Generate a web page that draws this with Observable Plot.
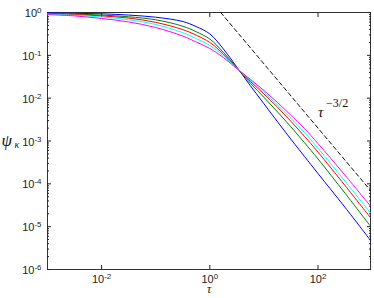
<!DOCTYPE html>
<html><head><meta charset="utf-8">
<script src="https://cdn.jsdelivr.net/npm/d3@7"></script>
<script src="https://cdn.jsdelivr.net/npm/@observablehq/plot@0.6"></script>
<style>body{margin:0;background:#fff}</style>
</head><body><div id="chart"></div>
<script>
// tau sample points
const tau = [1e-3, 3.16e-3, 1e-2, 3.16e-2, 0.1, 0.316, 0.562, 1, 1.78, 3.16, 5.62, 10, 17.8, 31.6, 56.2, 100, 316, 933];
// log10(psi) read for each curve
const logPsiBlue    = [-0.01, -0.02, -0.03, -0.06, -0.11, -0.21, -0.33, -0.50, -0.85, -1.275, -1.71, -2.13, -2.55, -2.96, -3.36, -3.76, -4.55, -5.32];
const logPsiGreen   = [-0.02, -0.035, -0.06, -0.10, -0.17, -0.32, -0.45, -0.62, -0.93, -1.285, -1.65, -1.98, -2.32, -2.67, -3.04, -3.42, -4.22, -4.99];
const logPsiRed     = [-0.03, -0.05, -0.08, -0.13, -0.23, -0.40, -0.53, -0.70, -0.97, -1.295, -1.61, -1.90, -2.21, -2.54, -2.89, -3.26, -4.04, -4.79];
const logPsiCyan    = [-0.04, -0.065, -0.105, -0.17, -0.28, -0.47, -0.61, -0.77, -1.01, -1.30, -1.585, -1.86, -2.16, -2.47, -2.80, -3.17, -3.94, -4.68];
const logPsiMagenta = [-0.05, -0.08, -0.14, -0.22, -0.35, -0.55, -0.69, -0.84, -1.05, -1.31, -1.56, -1.82, -2.10, -2.40, -2.71, -3.06, -3.80, -4.52];
const seriesNames  = ["blue", "green", "red", "cyan", "magenta"];
const seriesColors = ["#0000ff", "#008000", "#ff0000", "#00bfbf", "#bf00bf"];
// reference power law tau^(-3/2)
const refTau = [1.59, 933];
const refPsi = [1, 7.0e-5];
const refLabel = [{tau: 100, psi: 4.6e-3, base: "τ", exponent: "−3/2"}];
// ticks
const xMajorTicks = [1e-2, 1, 1e2];
const yMajorTicks = [1e-6, 1e-5, 1e-4, 1e-3, 1e-2, 1e-1, 1];
const yMinorTicks = [];
for (let k = -6; k < 0; k++) for (let m = 2; m <= 9; m++) yMinorTicks.push(m * 10 ** k);

const allLogs = [logPsiBlue, logPsiGreen, logPsiRed, logPsiCyan, logPsiMagenta];
const rows = [];
allLogs.forEach((arr, s) => arr.forEach((v, i) => rows.push({series: seriesNames[s], tau: tau[i], psi: 10 ** v})));
const refRows = refTau.map((t, i) => ({tau: t, psi: refPsi[i]}));

const fmt = d => `10^${Math.round(Math.log10(d))}`;
const none = () => "";
const serif = "Liberation Serif, DejaVu Serif, serif";

const plot = Plot.plot({
  width: 374, height: 298,
  marginLeft: 47, marginRight: 4, marginTop: 12, marginBottom: 29,
  x: {type: "log", domain: [1e-3, 933]},
  y: {type: "log", domain: [1e-6, 1]},
  color: {domain: seriesNames, range: seriesColors},
  style: {fontFamily: "Liberation Sans, Arial, sans-serif", fontSize: "11px", color: "#222", background: "white", overflow: "visible"},
  marks: [
    Plot.frame({stroke: "#333"}),
    Plot.axisX({ticks: xMajorTicks, anchor: "bottom", tickSize: 0, tickPadding: 5.5, tickFormat: fmt, label: null}),
    Plot.axisX({ticks: xMajorTicks, anchor: "bottom", tickSize: -4, tickFormat: none, label: null}),
    Plot.axisX({ticks: xMajorTicks, anchor: "top", tickSize: -4, tickFormat: none, label: null}),
    Plot.axisY({ticks: yMajorTicks, anchor: "left", tickSize: 0, tickPadding: 6, dy: 1, tickFormat: fmt, label: null}),
    Plot.axisY({ticks: yMajorTicks, anchor: "left", tickSize: -4, tickFormat: none, label: null}),
    Plot.axisY({ticks: yMajorTicks, anchor: "right", tickSize: -4, tickFormat: none, label: null}),
    Plot.axisY({ticks: yMinorTicks, anchor: "left", tickSize: -2, tickFormat: none, label: null}),
    Plot.axisY({ticks: yMinorTicks, anchor: "right", tickSize: -2, tickFormat: none, label: null}),
    Plot.line(rows, {x: "tau", y: "psi", z: "series", stroke: "series", curve: "catmull-rom", strokeWidth: 1}),
    Plot.line(refRows, {x: "tau", y: "psi", stroke: "#111", strokeWidth: 1, strokeDasharray: "4,3"}),
    Plot.text(refLabel, {x: "tau", y: "psi", text: "base", textAnchor: "start", fontSize: 15, fontStyle: "italic", fontFamily: serif, fill: "#111"}),
    Plot.text(refLabel, {x: "tau", y: "psi", text: "exponent", textAnchor: "start", dx: 8, dy: -9, fontSize: 12, letterSpacing: "2px", fontFamily: serif, fill: "#111"}),
    Plot.text(["ψ"], {frameAnchor: "left", textAnchor: "start", dx: -46, fontSize: 17, fontStyle: "italic", fontFamily: serif, fill: "#111"}),
    Plot.text(["κ"], {frameAnchor: "left", textAnchor: "start", dx: -33, dy: 4, fontSize: 10, fontStyle: "italic", fontFamily: serif, fill: "#111"}),
    Plot.text(["τ"], {frameAnchor: "bottom", dy: 23.8, fontSize: 11.5, fontStyle: "italic", fontFamily: serif, fill: "#111"})
  ]
});

const ns = "http://www.w3.org/2000/svg";
plot.querySelectorAll('g[aria-label$="tick label"] text').forEach(t => {
  const m = /^10\^(.+)$/.exec(t.textContent);
  if (!m) return;
  t.textContent = "";
  const a = document.createElementNS(ns, "tspan"); a.textContent = "10";
  const b = document.createElementNS(ns, "tspan"); b.textContent = m[1];
  b.setAttribute("dy", "-0.5em"); b.setAttribute("font-size", "0.72em");
  t.append(a, b);
});
document.getElementById("chart").append(plot);
</script>
</body></html>
